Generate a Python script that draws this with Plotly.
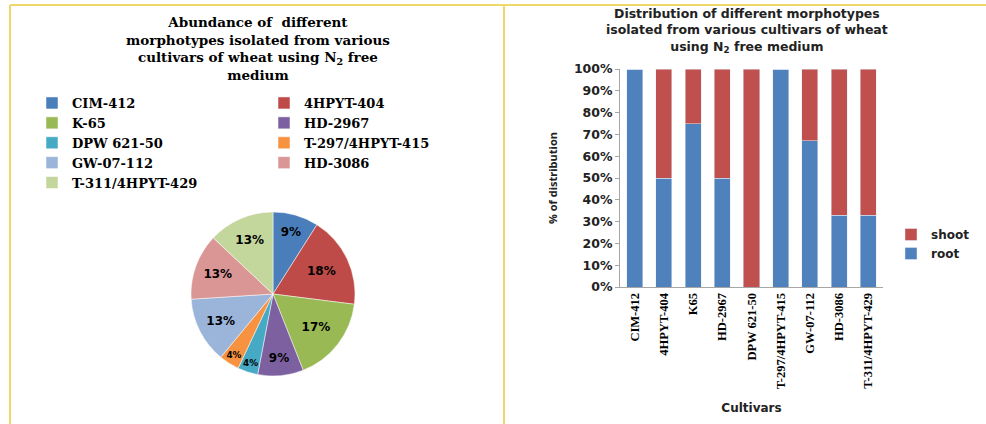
import plotly.graph_objects as go

# ---- data ----
pie_cultivars = ["CIM-412", "4HPYT-404", "K-65", "HD-2967", "DPW 621-50",
                 "T-297/4HPYT-415", "GW-07-112", "HD-3086", "T-311/4HPYT-429"]
abundance = [9, 18, 17, 9, 4, 4, 13, 13, 13]
pie_colors = ["#4A7EBB", "#BE4B48", "#98B954", "#7D60A0", "#46AAC5",
              "#F69240", "#9BB4DA", "#D99694", "#C3D69B"]

bar_cultivars = ["CIM-412", "4HPYT-404", "K65", "HD-2967", "DPW 621-50",
                 "T-297/4HPYT-415", "GW-07-112", "HD-3086", "T-311/4HPYT-429"]
root = [100, 50, 75, 50, 0, 100, 67, 33, 33]
shoot = [0, 50, 25, 50, 100, 0, 33, 67, 67]

# ---- layout helpers (pixel -> paper) ----
W, H, ML = 986, 424, 50


def fx(px):
    return (px - ML) / (W - ML)


def fy(py):
    return 1 - py / H


fig = go.Figure()

fig.add_trace(go.Pie(
    labels=pie_cultivars, values=abundance, sort=False, direction="clockwise",
    rotation=0, marker=dict(colors=pie_colors, line=dict(color="white", width=0.5)),
    texttemplate="%{percent:.0%}", textposition="inside",
    insidetextorientation="horizontal",
    textfont=dict(family="DejaVu Sans", size=12, color="black", weight="bold"),
    domain=dict(x=[fx(63), fx(483)], y=[fy(376), fy(212)]),
    legend="legend", showlegend=True, hoverinfo="label+percent",
))

fig.add_trace(go.Bar(x=bar_cultivars, y=root, name="root", marker_color="#4F81BD",
                     legend="legend2", xaxis="x", yaxis="y"))
fig.add_trace(go.Bar(x=bar_cultivars, y=shoot, name="shoot", marker_color="#C0504D",
                     legend="legend2", xaxis="x", yaxis="y"))

border = "#EED86A"
shapes = [
    dict(type="line", xref="paper", yref="paper", x0=fx(10), x1=fx(10), y0=fy(5), y1=fy(424),
         line=dict(color=border, width=2)),
    dict(type="line", xref="paper", yref="paper", x0=fx(10), x1=fx(986), y0=fy(5), y1=fy(5),
         line=dict(color=border, width=2)),
    dict(type="line", xref="paper", yref="paper", x0=fx(504), x1=fx(504), y0=fy(5), y1=fy(424),
         line=dict(color=border, width=2)),
]

annotations = [
    dict(text="Abundance of  different<br>morphotypes isolated from various<br>"
              "cultivars of wheat using N<sub>2</sub> free<br>medium",
         xref="paper", yref="paper", x=fx(258), y=fy(12), xanchor="center", yanchor="top",
         showarrow=False, font=dict(family="DejaVu Serif", size=13.5, color="black", weight="bold")),
    dict(text="Distribution of different morphotypes<br>isolated from various cultivars of wheat<br>"
              "using N<sub>2</sub> free medium",
         xref="paper", yref="paper", x=fx(747), y=fy(4), xanchor="center", yanchor="top",
         showarrow=False, font=dict(family="DejaVu Sans", size=12.5, color="#222", weight="bold")),
]

fig.update_layout(
    width=W, height=H,
    margin=dict(l=ML, r=0, t=0, b=0, autoexpand=False),
    paper_bgcolor="white", plot_bgcolor="white",
    barmode="stack", bargap=0.45,
    showlegend=True,
    shapes=shapes, annotations=annotations,
    xaxis=dict(domain=[fx(620), fx(883)], anchor="y", tickangle=-90,
               tickfont=dict(family="Liberation Serif", size=12.5, color="black", weight="bold"),
               showline=True, linecolor="#A6A6A6", linewidth=1, ticks="",
               title=dict(text="Cultivars", standoff=15,
                          font=dict(family="DejaVu Sans", size=12, color="#222", weight="bold"))),
    yaxis=dict(domain=[fy(287), fy(69)], anchor="x", range=[0, 100],
               tickmode="linear", tick0=0, dtick=10, ticksuffix="%",
               showgrid=False, zeroline=False,
               showline=True, linecolor="#A6A6A6", linewidth=1, ticks="outside", ticklen=4,
               tickcolor="#A6A6A6",
               tickfont=dict(family="DejaVu Sans", size=12.5, color="#222", weight="bold"),
               title=dict(text="% of distribution", standoff=14,
                          font=dict(family="Open Sans", size=11, color="#222", weight="bold"))),
    legend=dict(orientation="h", x=fx(32), xanchor="left", y=fy(88), yanchor="top",
                entrywidth=187, entrywidthmode="pixels", bgcolor="rgba(0,0,0,0)",
                font=dict(family="DejaVu Serif", size=13, color="black", weight="bold"),
                tracegroupgap=0, itemwidth=30),
    legend2=dict(orientation="v", x=fx(891), xanchor="left", y=fy(220), yanchor="top",
                 traceorder="reversed", bgcolor="rgba(0,0,0,0)",
                 font=dict(family="DejaVu Sans", size=12, color="#222", weight="bold")),
)

fig.write_html("out.html", config={"displayModeBar": False},
               post_script="document.body.style.margin='0';")
